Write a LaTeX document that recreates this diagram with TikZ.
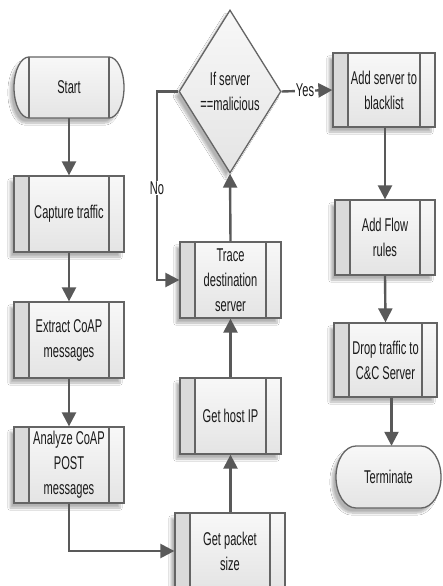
\documentclass[tikz,border=0pt]{standalone}
\usepackage{fontspec}
\setmainfont[FakeStretch=0.6]{Liberation Sans}
\usetikzlibrary{arrows.meta,shapes.geometric,shadows.blur}
\definecolor{edgec}{HTML}{646464}
\definecolor{arrowc}{HTML}{595959}
\definecolor{txtc}{HTML}{1A1A1A}
\definecolor{boxtop}{HTML}{F8F8F8}
\definecolor{boxbot}{HTML}{E4E4E4}
\definecolor{stripc}{HTML}{DADADA}
\begin{document}
\begin{tikzpicture}[x=1pt,y=-1pt,
  font=\fontsize{18.5}{25}\selectfont,
  sh/.style={blur shadow={shadow xshift=-4pt,shadow yshift=-5pt,shadow blur steps=8,shadow opacity=30}},
  shapefill/.style={draw=edgec, line width=1.3pt, top color=boxtop, bottom color=boxbot},
  proc/.style={rectangle, shapefill, sh, text=txtc, align=center, inner sep=1pt,
    path picture={
      \fill[stripc] (path picture bounding box.north west) rectangle ([xshift=15pt]path picture bounding box.south west);
      \draw[edgec, line width=1.1pt] ([xshift=15pt]path picture bounding box.north west) -- ([xshift=15pt]path picture bounding box.south west);
      \draw[edgec, line width=1.1pt] ([xshift=-15pt]path picture bounding box.north east) -- ([xshift=-15pt]path picture bounding box.south east);
    }},
  plain/.style={text=txtc, align=center, inner sep=0pt},
  decision/.style={diamond, shapefill, sh, text=txtc, align=center, inner sep=0pt, shape aspect=0.63},
  arr/.style={draw=arrowc, line width=2.4pt, -{Triangle[length=14pt,width=14pt]}},
  lbl/.style={fill=white, text=txtc, inner sep=1pt}
]
\useasboundingbox (0,0) rectangle (442,586);
\clip (0,0) rectangle (442,586);
\fill[white] (0,0) rectangle (442,586);

% Start terminal
\path[shapefill, sh] (29,57) -- (109,57) arc[start angle=90, end angle=-90, x radius=15pt, y radius=30.5pt]
  -- (29,118) arc[start angle=-90, end angle=-270, x radius=15pt, y radius=30.5pt] -- cycle;
\draw[edgec, line width=1.1pt] (29,57) -- (29,118) (109,57) -- (109,118);
\node[plain] (start) at (69,87.5) [minimum width=110pt, minimum height=61pt] {Start};

% Terminate terminal
\path[shapefill, sh] (356,446) -- (421,446) arc[start angle=90, end angle=-90, x radius=20pt, y radius=31pt]
  -- (356,508) arc[start angle=-90, end angle=-270, x radius=20pt, y radius=31pt] -- cycle;
\node[plain] (term) at (388.5,477) [minimum width=105pt, minimum height=62pt] {Terminate};

% Process boxes
\node[proc, minimum width=110pt, minimum height=76pt] (capture) at (69,214) {Capture traffic};
\node[proc, minimum width=110pt, minimum height=76pt] (extract) at (69,340) {Extract CoAP\\messages};
\node[proc, minimum width=110pt, minimum height=76pt] (analyze) at (69,465) {Analyze CoAP\\POST\\messages};
\node[proc, minimum width=110pt, minimum height=76pt] (packet) at (230,551) {Get packet\\size};
\node[proc, minimum width=101pt, minimum height=76pt] (hostip) at (230.5,416) {Get host IP};
\node[proc, minimum width=101pt, minimum height=76pt] (trace) at (230.5,280) {Trace\\destination\\server};
\node[decision, minimum width=102pt, minimum height=163pt] (dec) at (230,91.5) {If server\\==malicious};
\node[proc, minimum width=102pt, minimum height=74pt] (addsrv) at (384,90) {Add server to\\blacklist};
\node[proc, minimum width=100pt, minimum height=75pt] (addflow) at (385,237.5) {Add Flow\\rules};
\node[proc, minimum width=103pt, minimum height=74pt] (drop) at (385.5,360) {Drop traffic to\\C\&C Server};

% Connectors
\draw[arr] (start.south) -- (capture.north);
\draw[arr] (capture.south) -- (extract.north);
\draw[arr] (extract.south) -- (analyze.north);
\draw[arr] (analyze.south) |- (packet.west);
\draw[arr] (packet.north -| hostip.north) -- (hostip.south);
\draw[arr] (hostip.north) -- (trace.south);
\draw[arr] (trace.north) -- (dec.south);
\coordinate (nocorner) at (157,91.5);
\draw[arr] (dec.west) -- (nocorner) |- (trace.west);
\node[lbl] (nolbl) at (157,188) {No};
\draw[arr] (dec.east) -- (addsrv.west);
\node[lbl] (yeslbl) at (305,90) {Yes};
\draw[arr] (addflow.north |- addsrv.south) -- (addflow.north);
\draw[arr] (addflow.south) -- (drop.north);
\draw[arr] ([xshift=3pt]term.north |- drop.south) -- ([xshift=3pt]term.north);
\end{tikzpicture}
\end{document}
